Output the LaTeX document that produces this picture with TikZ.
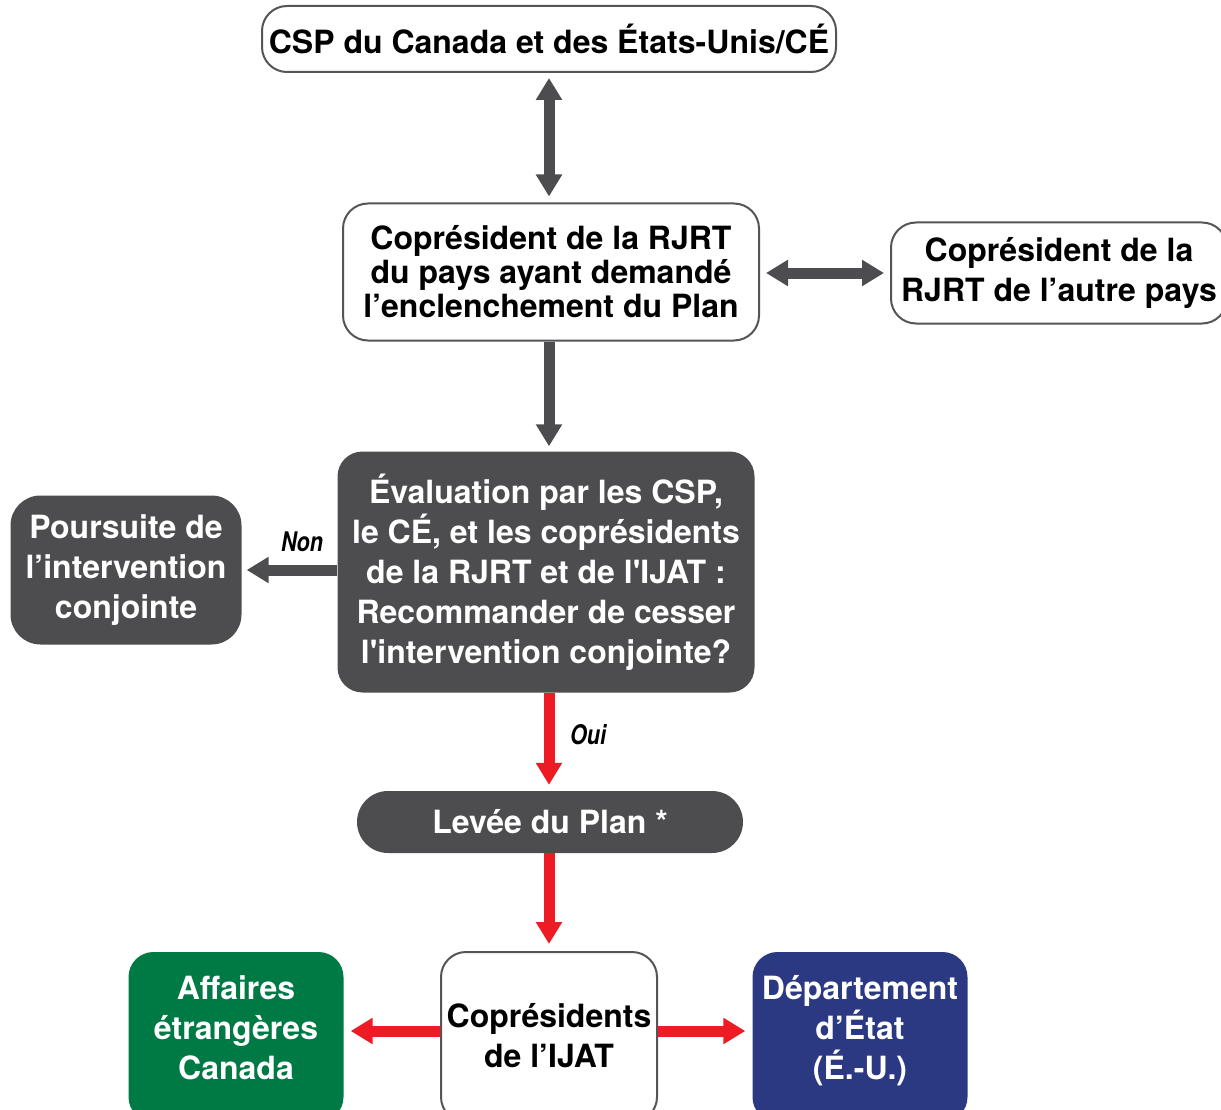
\documentclass[tikz,border=0pt]{standalone}
\usepackage{fontspec}
\setmainfont{TeX Gyre Heros}
\newfontfamily\heros{TeX Gyre Heros}
\usetikzlibrary{arrows.meta}
\definecolor{boxgray}{RGB}{77,77,79}
\definecolor{edgegray}{RGB}{85,85,87}
\definecolor{flowred}{RGB}{237,28,36}
\definecolor{aecgreen}{RGB}{0,122,69}
\definecolor{statblue}{RGB}{43,57,130}
\tikzset{
  boxtext/.style = {align = center, inner sep = 0, font = \heros\bfseries\fontsize{32}{40}\selectfont},
  lightbox/.style = {boxtext, draw = edgegray, line width = 2, fill = white, rounded corners = 25},
  darkbox/.style = {boxtext, fill = boxgray, text = white, rounded corners = 25},
  colorbox/.style = {boxtext, fill = #1, text = white, rounded corners = 25},
  grayarrow/.style = {draw = boxgray, line width = 11, -{Triangle[width = 25pt, length = 22pt]}},
  graytwin/.style = {draw = boxgray, line width = 11, {Triangle[width = 25pt, length = 22pt]}-{Triangle[width = 25pt, length = 22pt]}},
  redarrow/.style = {draw = flowred, line width = 11, -{Triangle[width = 25pt, length = 22pt]}},
  answer/.style = {font = \heros\bfseries\itshape\fontsize{27}{30}\selectfont}
}
\newcommand\narrow[1]{\scalebox{0.8}[1]{#1}}
\begin{document}
\begin{tikzpicture}[x = 1pt, y = -1pt]
\useasboundingbox (0,0) rectangle (1221,1110);
\clip (0,0) rectangle (1221,1110);
\pgfmathsetmacro\midx{549}
\node [lightbox, minimum width = 574, minimum height = 66] (csp) at (\midx,39) {CSP du Canada et des États-Unis/CÉ};
\node [lightbox, minimum width = 416, minimum height = 137, font = \heros\bfseries\fontsize{32}{34}\selectfont] (copres) at (551,272) {Coprésident de la RJRT\\du pays ayant demandé\\l’enclenchement du Plan};
\node [lightbox, minimum width = 336, minimum height = 101] (autre) at (1059,273) {Coprésident de la\\RJRT de l’autre pays};
\node [darkbox, minimum width = 417, minimum height = 241] (eval) at (546,572) {Évaluation par les CSP,\\le CÉ, et les coprésidents\\de la RJRT et de l'IJAT :\\Recommander de cesser\\l'intervention conjointe?};
\node [darkbox, minimum width = 231, minimum height = 149, rounded corners = 30] (suite) at (126,570) {Poursuite de\\l’intervention\\conjointe};
\node [darkbox, minimum width = 386, minimum height = 62, rounded corners = 31] (levee) at (550,822) {Levée du Plan *};
\node [lightbox, minimum width = 216, minimum height = 170, text depth = 4pt] (ijat) at (\midx,1037) {Coprésidents\\de l’IJAT};
\node [colorbox = aecgreen, minimum width = 215, minimum height = 170, text depth = 18pt] (aec) at (236,1037) {Affaires\\étrangères\\Canada};
\node [colorbox = statblue, minimum width = 215, minimum height = 170, text depth = 20pt] (dos) at (860,1037) {Département\\d’État\\(É.-U.)};
\draw [graytwin, shorten < = 5, shorten > = 6] (csp.south -| \midx,0) -- (copres.north -| \midx,0);
\draw [graytwin, shorten < = 6, shorten > = 6] (copres.east |- autre) -- (autre.west);
\draw [grayarrow, shorten > = 5] (copres.south -| \midx,0) -- (eval.north -| \midx,0);
\draw [grayarrow, shorten > = 5] (eval.west |- suite) -- (suite.east);
\node [answer] (non) at (302,542) {\narrow{Non}};
\draw [redarrow, shorten > = 6] (eval.south -| \midx,0) -- (levee.north -| \midx,0);
\node [answer] (oui) at (588,735) {\narrow{Oui}};
\draw [redarrow, shorten > = 7] (levee.south -| \midx,0) -- (ijat.north);
\draw [redarrow, shorten > = 7] ([yshift = 6pt]ijat.west) -- ([yshift = 6pt]aec.east);
\draw [redarrow, shorten > = 7] ([yshift = 6pt]ijat.east) -- ([yshift = 6pt]dos.west);
\end{tikzpicture}
\end{document}
